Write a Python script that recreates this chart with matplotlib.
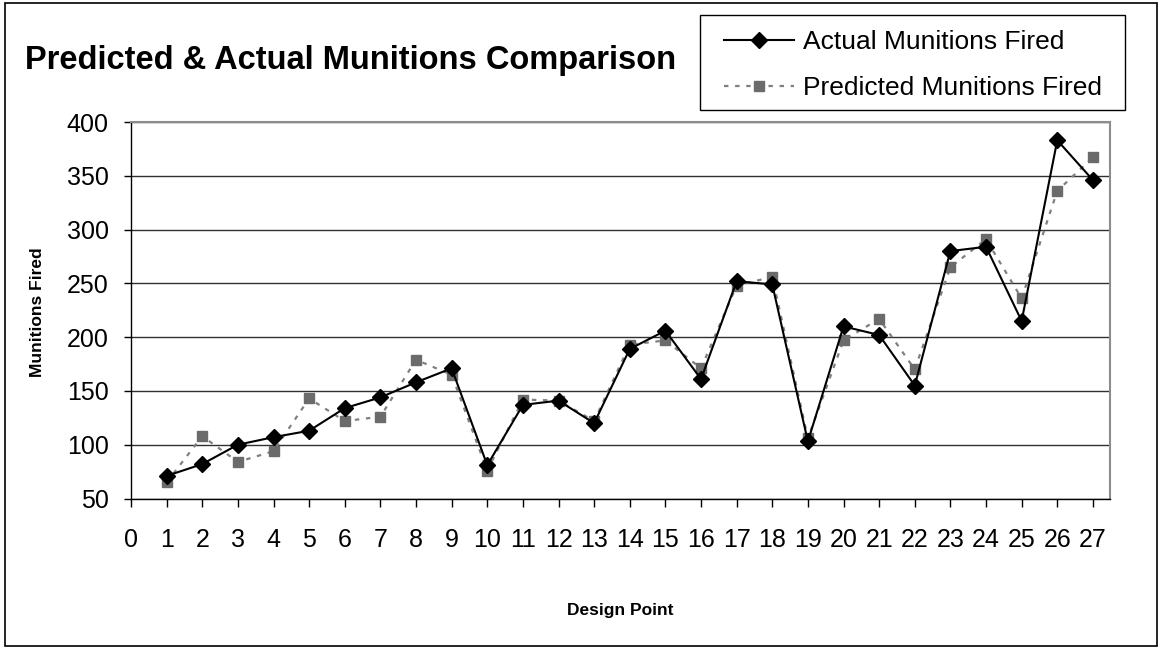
import matplotlib
matplotlib.use('Agg')
import matplotlib.pyplot as plt
from matplotlib.patches import Rectangle

# dados
pontos = list(range(1, 28))
disparos_reais = [71, 82, 100, 107, 113, 134, 144, 158, 171, 81,
                  137, 141, 120, 189, 206, 161, 252, 249, 103, 210,
                  202, 155, 280, 284, 215, 383, 346]
disparos_previstos = [65, 108, 84, 94, 143, 122, 126, 179, 165, 76,
                      142, 141, 122, 193, 197, 171, 248, 256, 106, 197,
                      217, 170, 265, 291, 236, 336, 367]
ticks_x = list(range(0, 28))
ticks_y = [50, 100, 150, 200, 250, 300, 350, 400]

plt.rcParams['font.family'] = ['Liberation Sans', 'DejaVu Sans']

W, H = 1160, 647
fig = plt.figure(figsize=(W / 100, H / 100), dpi=100)
ax = fig.add_axes([131 / W, 1 - 498.5 / H, (1110 - 131) / W, (498.5 - 122) / H])

ax.plot(pontos, disparos_reais, color='black', lw=1.5, marker='D', ms=8.5,
        label='Actual Munitions Fired', zorder=4)
ax.plot(pontos, disparos_previstos, color='#808080', lw=1.6, ls=(0, (2, 3)),
        marker='s', ms=7.5, mfc='#6b6b6b', mec='#6b6b6b',
        label='Predicted Munitions Fired', zorder=3)

ax.set_xlim(0, 27.48)
ax.set_ylim(50, 400)
ax.set_xticks(ticks_x)
ax.set_yticks(ticks_y)
ax.tick_params(axis='x', labelsize=18, length=6, width=1, pad=15, direction='out')
ax.tick_params(axis='y', labelsize=18, length=5, width=1, pad=11, direction='out')

ax.yaxis.grid(True, color='#303030', lw=1)
ax.set_axisbelow(True)
for lado in ['top', 'right']:
    ax.spines[lado].set_color('#8c8c8c')
    ax.spines[lado].set_linewidth(1.5)
for lado in ['left', 'bottom']:
    ax.spines[lado].set_color('black')
    ax.spines[lado].set_linewidth(1)

fig.text(25 / W, 1 - 69 / H, 'Predicted & Actual Munitions Comparison',
         fontsize=23.5, fontweight='bold', va='baseline', ha='left')
fig.text(620 / W, 1 - 610 / H, 'Design Point', fontsize=12.5,
         fontweight='bold', ha='center', va='center')
fig.text(37 / W, 1 - 312 / H, 'Munitions Fired', fontsize=12.5,
         fontweight='bold', ha='center', va='center', rotation=90)

# legenda sem moldura, caixa desenhada a parte
leg = fig.legend(loc='upper left', bbox_to_anchor=(724 / W, 1 - 30 / H),
                 fontsize=19, frameon=False, handlelength=2.65,
                 handletextpad=0.35, borderpad=0, labelspacing=0.83,
                 borderaxespad=0)
fig.add_artist(Rectangle((700 / W, 1 - 110 / H), 425 / W, 95 / H,
                         transform=fig.transFigure, fill=False,
                         edgecolor='black', lw=1))

fig.add_artist(Rectangle((5 / W, 1.5 / H), (1157 - 5) / W, (644 - 1.5) / H,
                         transform=fig.transFigure, fill=False,
                         edgecolor='black', lw=1.2))

fig.savefig('out.png', dpi=100)
